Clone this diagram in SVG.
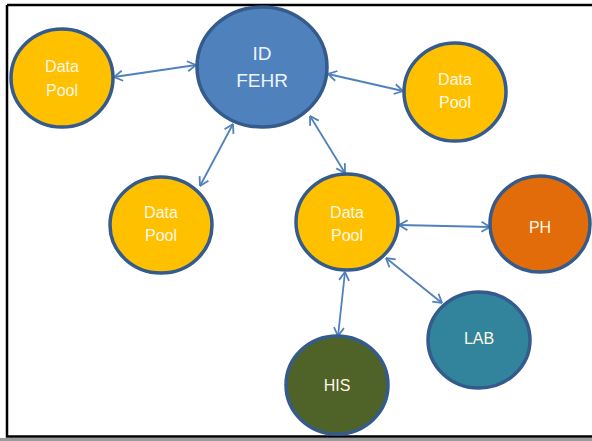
<svg xmlns="http://www.w3.org/2000/svg" width="592" height="441" viewBox="0 0 592 441">
  <style>
    .node { stroke: #345b8c; stroke-width: 3.5; }
    .pool { fill: #ffc000; }
    .hub { fill: #4f81bd; }
    .ph { fill: #e36c0a; }
    .lab { fill: #31849b; }
    .his { fill: #4f6228; }
    .lbl { font-family: "Liberation Sans", Arial, sans-serif; font-size: 16px; text-anchor: middle; fill: #fff8e6; }
    .big { font-size: 19px; fill: #eef3fa; }
    .link { stroke: #4f81bd; stroke-width: 1.8; fill: none; marker-start: url(#head); marker-end: url(#head); }
  </style>
  <defs>
    <marker id="head" viewBox="0 0 10 12" refX="9.5" refY="6" markerWidth="10" markerHeight="12" markerUnits="userSpaceOnUse" orient="auto-start-reverse">
      <path d="M1,1 L9.5,6 L1,11" fill="none" stroke="#4f81bd" stroke-width="1.8"/>
    </marker>
  </defs>

  <rect width="592" height="441" fill="#ffffff"/>
  <!-- frame -->
  <rect x="0" y="438" width="592" height="3" fill="#9a9a9a"/>
  <path d="M7,5 L600,5 M7,5 L7,436.5 L600,436.5" fill="none" stroke="#000000" stroke-width="2.5"/>

  <g id="connectors">
    <line class="link" x1="114" y1="77" x2="196" y2="65"/>
    <line class="link" x1="328" y1="74" x2="403" y2="91"/>
    <line class="link" x1="233" y1="124" x2="200" y2="186"/>
    <line class="link" x1="310" y1="116" x2="345" y2="173"/>
    <line class="link" x1="399" y1="225" x2="490" y2="227"/>
    <line class="link" x1="386" y1="258" x2="442" y2="303"/>
    <line class="link" x1="345" y1="272" x2="338" y2="336"/>
  </g>

  <g id="id-fehr">
    <ellipse class="node hub" cx="262" cy="67" rx="65" ry="60"/>
    <text class="lbl big" x="262" y="60">ID</text>
    <text class="lbl big" x="262" y="87">FEHR</text>
  </g>
  <g id="pool-top-left">
    <ellipse class="node pool" cx="62" cy="78" rx="51" ry="49"/>
    <text class="lbl" x="62" y="72">Data</text>
    <text class="lbl" x="62" y="96">Pool</text>
  </g>
  <g id="pool-top-right">
    <ellipse class="node pool" cx="455" cy="92" rx="51" ry="49"/>
    <text class="lbl" x="455" y="85">Data</text>
    <text class="lbl" x="455" y="108">Pool</text>
  </g>
  <g id="pool-mid-left">
    <ellipse class="node pool" cx="161" cy="225" rx="51" ry="48"/>
    <text class="lbl" x="161" y="218">Data</text>
    <text class="lbl" x="161" y="241">Pool</text>
  </g>
  <g id="pool-center">
    <ellipse class="node pool" cx="347" cy="222" rx="51" ry="48"/>
    <text class="lbl" x="347" y="218">Data</text>
    <text class="lbl" x="347" y="241">Pool</text>
  </g>
  <g id="ph">
    <ellipse class="node ph" cx="540" cy="224" rx="50" ry="48"/>
    <text class="lbl" x="540" y="233">PH</text>
  </g>
  <g id="lab">
    <ellipse class="node lab" cx="479" cy="340" rx="51" ry="48"/>
    <text class="lbl" x="479" y="344">LAB</text>
  </g>
  <g id="his">
    <ellipse class="node his" cx="337" cy="385" rx="51" ry="49"/>
    <text class="lbl" x="337" y="391">HIS</text>
  </g>
</svg>
